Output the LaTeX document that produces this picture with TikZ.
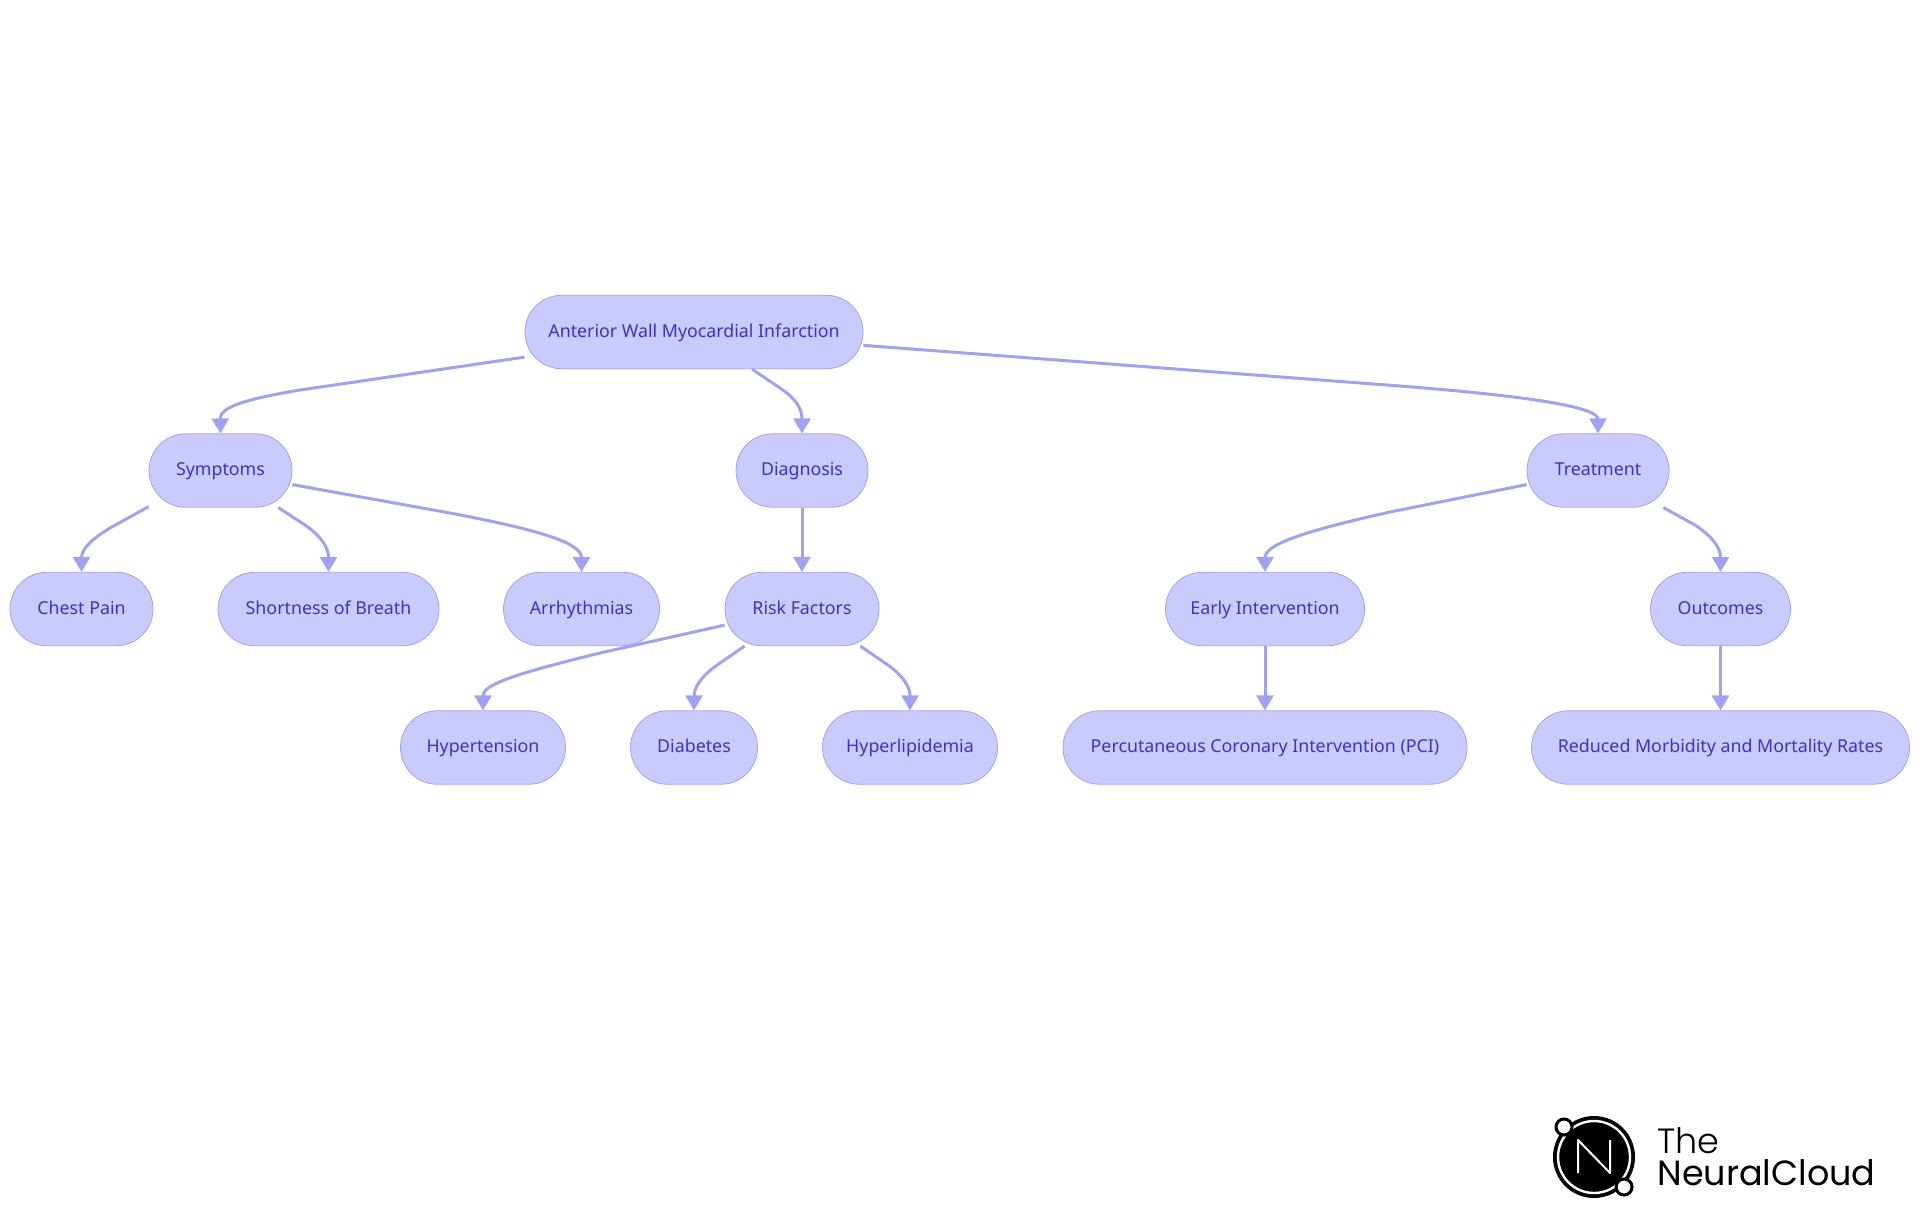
\documentclass[tikz,border=0pt]{standalone}
\usepackage{fontspec}
\usepackage{tikz}
\usetikzlibrary{arrows.meta, calc}
\setmainfont{Noto Sans}
\newfontfamily\logofont{Poppins Light}
\newfontfamily\logobold{Poppins}
\definecolor{boxfill}{HTML}{C9CBFF}
\definecolor{boxline}{HTML}{9FA1F4}
\definecolor{boxtext}{HTML}{3435CC}
\tikzset{
    pill/.style={draw=boxline, fill=boxfill, text=boxtext, line width=0.4pt, rounded corners=18.3pt,
        minimum height=36.7pt, inner sep=0pt, text height=7pt, text depth=2pt, font=\fontsize{8.9}{11}\selectfont},
    link/.style={draw=boxline, line width=1.5pt, -{Triangle[length=7.5pt,width=8.5pt]}},
    logotext/.style={anchor=base west, inner sep=0pt}
}

\begin{document}
\begin{tikzpicture}[x=0.5pt, y=-0.5pt]
    \useasboundingbox (0, 0) rectangle (1920, 1215);
    % nodes, row by row
    \node[pill, minimum width=169pt] (root) at (694, 332) {Anterior Wall Myocardial Infarction};
    \node[pill, minimum width=71.5pt] (symptoms) at (220.5, 470.5) {Symptoms};
    \node[pill, minimum width=66pt] (diagnosis) at (802, 470.5) {Diagnosis};
    \node[pill, minimum width=71pt] (treatment) at (1598, 470.5) {Treatment};
    \node[pill, minimum width=71.5pt] (chest) at (81.5, 609) {Chest Pain};
    \node[pill, minimum width=110.5pt] (breath) at (328.5, 609) {Shortness of Breath};
    \node[pill, minimum width=78pt] (arrhythmias) at (581.5, 609) {Arrhythmias};
    \node[pill, minimum width=77pt] (risk) at (802, 609) {Risk Factors};
    \node[pill, minimum width=99.5pt] (early) at (1265, 609) {Early Intervention};
    \node[pill, minimum width=70pt] (outcomes) at (1720.5, 609) {Outcomes};
    \node[pill, minimum width=82.5pt] (hypertension) at (483, 747.5) {Hypertension};
    \node[pill, minimum width=63.5pt] (diabetes) at (694, 747.5) {Diabetes};
    \node[pill, minimum width=87.5pt] (lipid) at (910, 747.5) {Hyperlipidemia};
    \node[pill, minimum width=202pt] (pci) at (1265, 747.5) {Percutaneous Coronary Intervention (PCI)};
    \node[pill, minimum width=189pt] (rates) at (1720.5, 747.5) {Reduced Morbidity and Mortality Rates};
    % connectors
    \draw[link] ($(root.south west)+(0,-12)$) -- (300, 390) .. controls (240, 400) and (220, 408) .. (symptoms.north);
    \draw[link] ($(root.south)+(58,0)$) -- (780, 388) .. controls (795, 398) and (802, 408) .. (diagnosis.north);
    \draw[link] ($(root.north east)!0.68!(root.south east)$) -- (1400, 386) .. controls (1540, 397) and (1598, 408) .. (treatment.north);
    \draw[link] ($(symptoms.south west)+(0,-1)$) -- (110, 528) .. controls (90, 540) and (81.5, 550) .. (chest.north);
    \draw[link] ($(symptoms.south east)+(-14,0)$) -- (305, 525) .. controls (322, 537) and (328.5, 548) .. (breath.north);
    \draw[link] ($(symptoms.south east)+(0,-23)$) -- (450, 513) .. controls (540, 530) and (581.5, 543) .. (arrhythmias.north);
    \draw[link] (diagnosis) -- (risk);
    \draw[link] ($(risk.south west)+(0,-21)$) -- (600, 653) .. controls (510, 675) and (483, 685) .. (hypertension.north);
    \draw[link] ($(risk.south west)+(20,0)$) -- (720, 663) .. controls (702, 675) and (694, 687) .. (diabetes.north);
    \draw[link] ($(risk.south east)+(-19,0)$) -- (885, 663) .. controls (903, 675) and (910, 687) .. (lipid.north);
    \draw[link] ($(treatment.south west)+(0,-23)$) -- (1390, 512) .. controls (1300, 532) and (1265, 545) .. (early.north);
    \draw[link] ($(treatment.south east)+(-6,0)$) -- (1695, 525) .. controls (1713, 537) and (1720.5, 548) .. (outcomes.north);
    \draw[link] (early) -- (pci);
    \draw[link] (outcomes) -- (rates);
    % logo
    \fill[black] (1594, 1157) circle[radius=41];
    \draw[white, line width=1.2pt] (1594, 1157) circle[radius=36];
    \draw[white, line width=1pt, line join=round] (1578, 1173) -- (1578, 1140) -- (1610, 1173) -- (1610, 1140);
    \draw[black, fill=white, line width=1.5pt] (1564, 1127) circle[radius=8];
    \draw[black, fill=white, line width=1.5pt] (1624, 1187) circle[radius=8];
    \node[logotext, font=\logofont\fontsize{17.5}{20}\selectfont] (logothe) at (1657, 1153) {The};
    \node[logotext, font=\logobold\fontsize{17.5}{20}\selectfont] (logoname) at (1657, 1185) {NeuralCloud};
\end{tikzpicture}
\end{document}
